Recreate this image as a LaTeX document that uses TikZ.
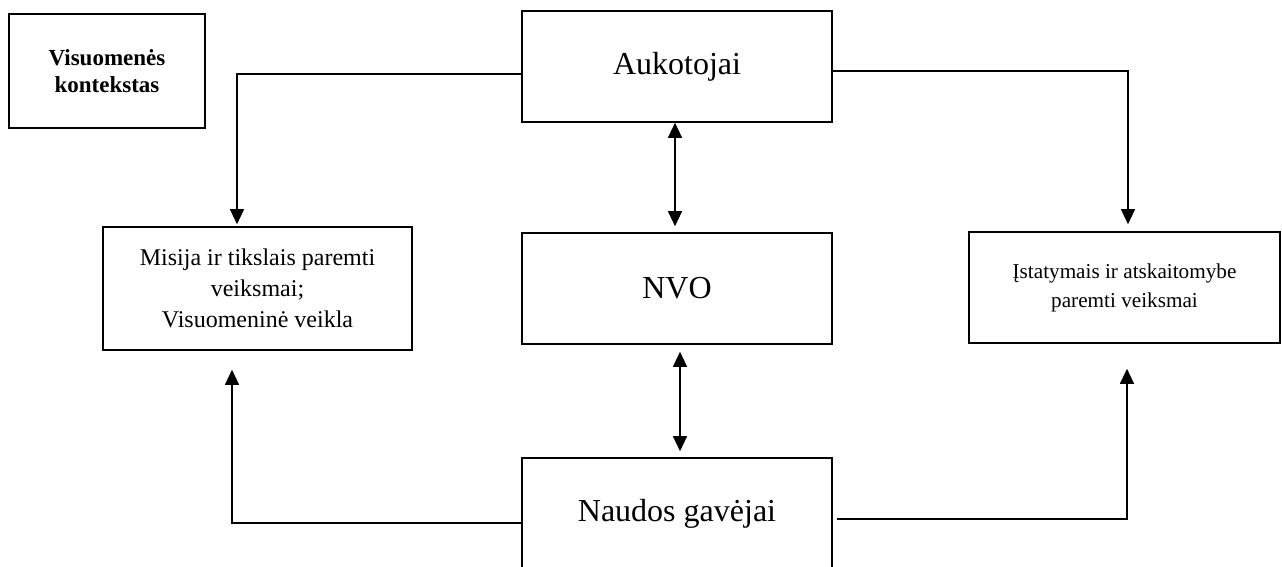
\documentclass[tikz,border=0pt]{standalone}
\usepackage{fontspec}
\setmainfont{Liberation Serif}
\usepackage{xcolor}
\usepackage{tikz}
\usetikzlibrary{arrows.meta,positioning}

\begin{document}
\begin{tikzpicture}[x=1pt,y=-1pt,>={Triangle[length=15pt,width=14pt]}]
		\tikzstyle{box}=[draw,line width=1.6pt,rectangle,align=center,inner sep=0pt]
		\tikzstyle{conn}=[line width=1.2pt]
		\useasboundingbox (0,0) rectangle (1282,567);
		
		\node[box,minimum width=196pt,minimum height=114pt,font={\fontsize{23}{27}\selectfont\bfseries}] (kont) at (107,71) {Visuomenės\\kontekstas};
		\node[box,minimum width=310pt,minimum height=111pt,font={\fontsize{32}{38}\selectfont}] (auk) at (677,66.5) {Aukotojai};
		\node[box,minimum width=310pt,minimum height=111pt,font={\fontsize{32}{38}\selectfont}] (nvo) at (677,288.5) {NVO};
		\node[box,minimum width=310pt,minimum height=112pt,font={\fontsize{32}{38}\selectfont}] (gav) at (677,514) {Naudos gavėjai};
		\node[box,minimum width=309pt,minimum height=123pt,font={\fontsize{24}{31}\selectfont}] (misija) at (257.5,288.5) {Misija ir tikslais paremti\\veiksmai;\\Visuomeninė veikla};
		\node[box,minimum width=311pt,minimum height=111pt,font={\fontsize{21.2}{29}\selectfont}] (istat) at (1124.5,287.5) {Įstatymais ir atskaitomybe\\paremti veiksmai};
		
		% is aukotoju
		\draw[conn,->] ([yshift=-7.5pt]auk.west) -| ([xshift=-20.5pt,yshift=2pt]misija.north);
		\draw[conn,->] ([yshift=-4.5pt]auk.east) -| ([xshift=3.5pt,yshift=7pt]istat.north);
		
		\path[conn,<->]
		([xshift=-2pt]auk.south) edge ([xshift=-2pt,yshift=6pt]nvo.north)
		([xshift=3pt,yshift=-7pt]nvo.south) edge ([xshift=3pt,yshift=6pt]gav.north);
		
		% is gaveju
		\draw[conn,->] ([yshift=-9pt]gav.west) -| ([xshift=-25.5pt,yshift=-19pt]misija.south);
		\draw[conn,->] ([xshift=4pt,yshift=-5pt]gav.east) -| ([xshift=2.5pt,yshift=-25pt]istat.south);
		
\end{tikzpicture}
\end{document}
